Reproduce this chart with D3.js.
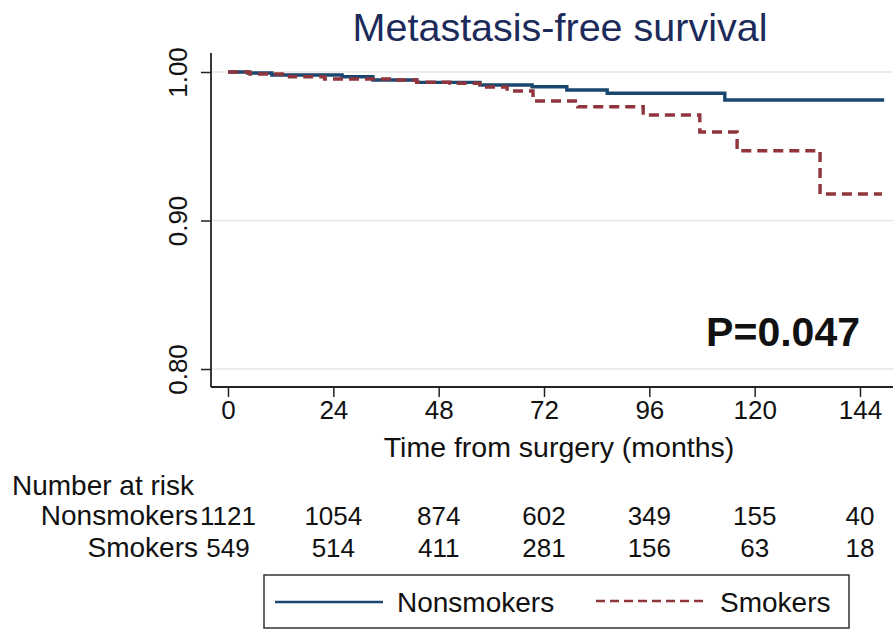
<!DOCTYPE html>
<html>
<head>
<meta charset="utf-8">
<title>Metastasis-free survival</title>
<script src="https://d3js.org/d3.v7.min.js"></script>
<style>
  body { margin: 0; background: #fff; }
  text { font-family: "Liberation Sans", Arial, sans-serif; fill: #111; }
</style>
</head>
<body>
<div id="chart"></div>
<script>

// Kaplan-Meier steps (months, survival)
var nsTime = [0, 4.5, 10, 26, 33, 43, 57.4, 69.3, 77.2, 86.4, 113.2, 149.5];
var nsSurv = [1.0, 0.9993, 0.998, 0.9968, 0.9946, 0.993, 0.9912, 0.9901, 0.9879, 0.9857, 0.9811, 0.9811];

var smTime = [0, 5, 14, 22, 38, 43, 50.6, 57.4, 63.6, 69.5, 79.7, 94.6, 107.5, 116, 134.9, 149];
var smSurv = [1.0, 0.9987, 0.9968, 0.9953, 0.9946, 0.9931, 0.9924, 0.9899, 0.9872, 0.9805, 0.9766, 0.971, 0.9596, 0.947, 0.9178, 0.9178];

// Axis ticks
var xTicks = [0, 24, 48, 72, 96, 120, 144];
var yTicks = [0.80, 0.90, 1.00];

// Number at risk
var riskLabels = ["Nonsmokers", "Smokers"];
var nsRisk = [1121, 1054, 874, 602, 349, 155, 40];
var smRisk = [549, 514, 411, 281, 156, 63, 18];

var pValue = "P=0.047";

var W = 893, H = 629;
var blue = "#1a476f", red = "#90353b";
var wordSize = "28px", numSize = "26px";

var svg = d3.select("#chart").append("svg")
  .attr("width", W).attr("height", H);

var x = d3.scaleLinear().domain([0, 144]).range([228, 860]);
var y = d3.scaleLinear().domain([0.80, 1.00]).range([369, 72]);

var plotLeft = 211, plotRight = W, plotBottom = 387, plotTop = 53;

// title
svg.append("text")
  .attr("x", 560).attr("y", 41)
  .attr("text-anchor", "middle")
  .style("font-size", "39.5px")
  .style("fill", "#1c2b5a")
  .text("Metastasis-free survival");

// grid lines
svg.append("g").selectAll("line")
  .data(yTicks).enter().append("line")
  .attr("x1", plotLeft).attr("x2", plotRight)
  .attr("y1", function(d){ return y(d); })
  .attr("y2", function(d){ return y(d); })
  .attr("stroke", "#e6e6e6").attr("stroke-width", 1.5);

// y axis
var yAxis = d3.axisLeft(y).tickValues(yTicks).tickFormat(d3.format(".2f")).tickSize(10).tickSizeOuter(0);
var gy = svg.append("g").attr("transform", "translate(" + plotLeft + ",0)").call(yAxis);
gy.select(".domain").remove();
gy.selectAll(".tick line").attr("stroke", "#222").attr("stroke-width", 1.5);
gy.selectAll(".tick text")
  .attr("x", 0).attr("dy", null).attr("y", 0)
  .attr("text-anchor", "middle")
  .attr("transform", "translate(-24,0) rotate(-90)")
  .style("font-size", numSize)
  .style("font-family", "'Liberation Sans', Arial, sans-serif")
  .style("fill", "#111");
svg.append("line")
  .attr("x1", plotLeft).attr("x2", plotLeft)
  .attr("y1", plotTop).attr("y2", plotBottom)
  .attr("stroke", "#222").attr("stroke-width", 1.8);

// x axis
var xAxis = d3.axisBottom(x).tickValues(xTicks).tickSize(10).tickSizeOuter(0);
var gx = svg.append("g").attr("transform", "translate(0," + plotBottom + ")").call(xAxis);
gx.select(".domain").remove();
gx.selectAll(".tick line").attr("stroke", "#222").attr("stroke-width", 1.5);
gx.selectAll(".tick text")
  .attr("y", 14)
  .style("font-size", numSize)
  .style("font-family", "'Liberation Sans', Arial, sans-serif")
  .style("fill", "#111");
svg.append("line")
  .attr("x1", plotLeft).attr("x2", plotRight)
  .attr("y1", plotBottom).attr("y2", plotBottom)
  .attr("stroke", "#222").attr("stroke-width", 1.8);

svg.append("text")
  .attr("x", 559).attr("y", 457)
  .attr("text-anchor", "middle")
  .style("font-size", "28.5px")
  .text("Time from surgery (months)");

// survival curves
var step = d3.line()
  .x(function(d){ return x(d[0]); })
  .y(function(d){ return y(d[1]); })
  .curve(d3.curveStepAfter);

svg.append("path")
  .datum(d3.zip(nsTime, nsSurv))
  .attr("d", step)
  .attr("fill", "none").attr("stroke", blue).attr("stroke-width", 3.4);

svg.append("path")
  .datum(d3.zip(smTime, smSurv))
  .attr("d", step)
  .attr("fill", "none").attr("stroke", red).attr("stroke-width", 3.4)
  .attr("stroke-dasharray", "10,6");

// p value
svg.append("text")
  .attr("x", 860).attr("y", 346)
  .attr("text-anchor", "end")
  .style("font-size", "41px").style("font-weight", "bold")
  .text(pValue);

// number at risk table
svg.append("text")
  .attr("x", 12).attr("y", 495)
  .style("font-size", wordSize)
  .text("Number at risk");

var rows = [nsRisk, smRisk];
var rowY = [525, 557];
rows.forEach(function(vals, i) {
  svg.append("text")
    .attr("x", 198).attr("y", rowY[i])
    .attr("text-anchor", "end")
    .style("font-size", wordSize)
    .text(riskLabels[i]);
  svg.append("g").selectAll("text")
    .data(vals).enter().append("text")
    .attr("x", function(d, j){ return x(xTicks[j]); })
    .attr("y", rowY[i])
    .attr("text-anchor", "middle")
    .style("font-size", numSize)
    .text(function(d){ return d; });
});

// legend
var lg = svg.append("g");
lg.append("rect")
  .attr("x", 264).attr("y", 575).attr("width", 585).attr("height", 53)
  .attr("fill", "#fff").attr("stroke", "#333").attr("stroke-width", 1.5);
lg.append("line")
  .attr("x1", 275).attr("x2", 383).attr("y1", 602).attr("y2", 602)
  .attr("stroke", blue).attr("stroke-width", 2.5);
lg.append("text")
  .attr("x", 397).attr("y", 612)
  .style("font-size", wordSize)
  .text(riskLabels[0]);
lg.append("line")
  .attr("x1", 596).attr("x2", 707).attr("y1", 601).attr("y2", 601)
  .attr("stroke", red).attr("stroke-width", 2.5)
  .attr("stroke-dasharray", "9,5");
lg.append("text")
  .attr("x", 720).attr("y", 612)
  .style("font-size", wordSize)
  .text(riskLabels[1]);

</script>
</body>
</html>
